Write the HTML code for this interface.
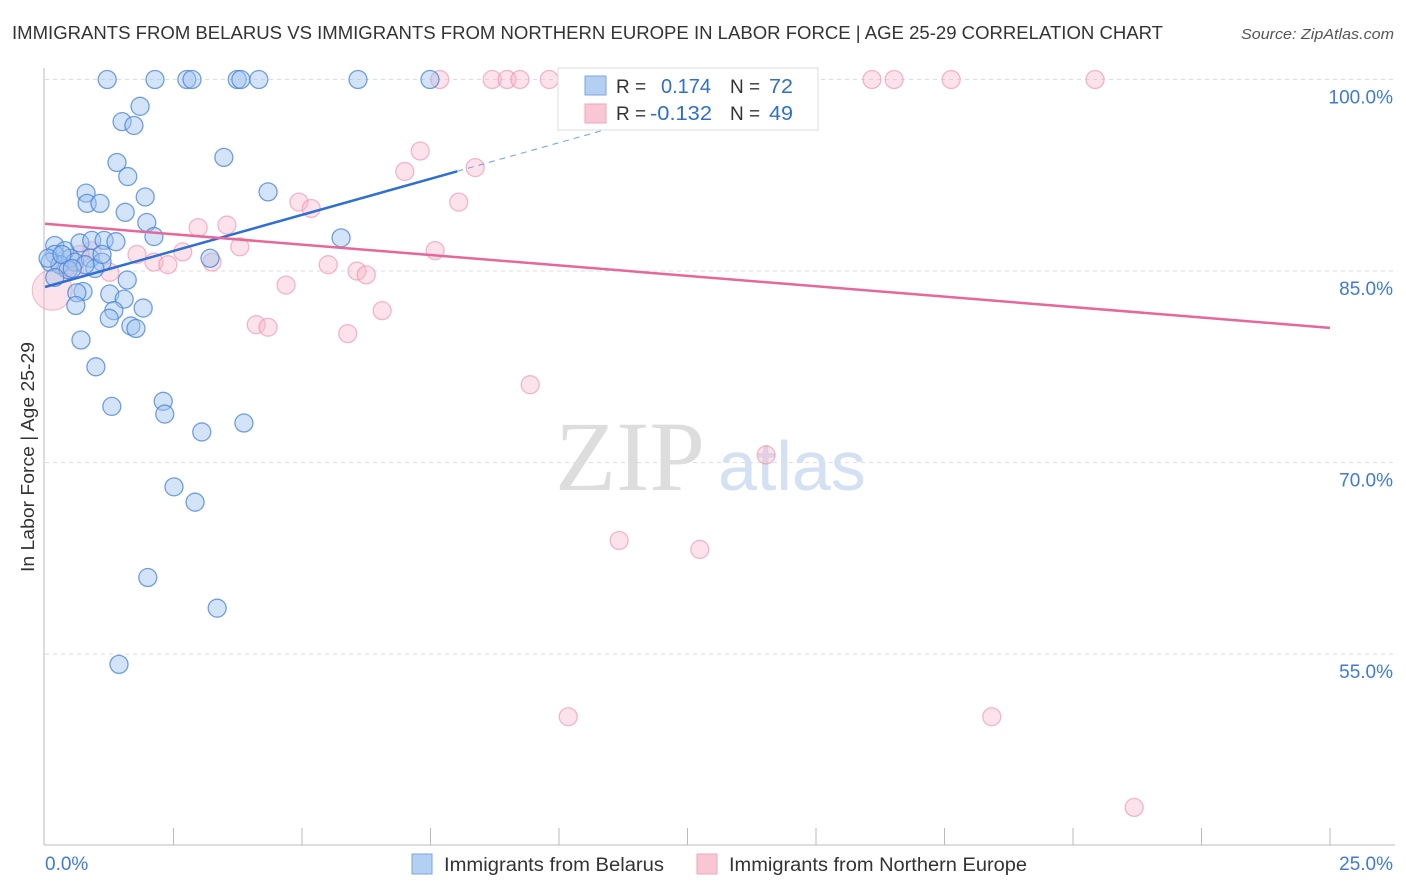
<!DOCTYPE html>
<html><head><meta charset="utf-8"><style>
body{margin:0;background:#fff;font-family:"Liberation Sans",sans-serif;}
svg{display:block}
</style></head><body>
<svg id="chart" width="1406" height="892">
<text x="12" y="39" font-size="18" textLength="1151" lengthAdjust="spacingAndGlyphs" fill="#333">IMMIGRANTS FROM BELARUS VS IMMIGRANTS FROM NORTHERN EUROPE IN LABOR FORCE | AGE 25-29 CORRELATION CHART</text>
<text x="1241" y="39" font-size="15" textLength="153" lengthAdjust="spacingAndGlyphs" fill="#555" font-style="italic">Source: ZipAtlas.com</text>
<text transform="translate(34,457) rotate(-90)" font-size="18" textLength="230" lengthAdjust="spacingAndGlyphs" fill="#333" text-anchor="middle">In Labor Force | Age 25-29</text>
<g><text x="555" y="490" font-family="Liberation Serif,serif" font-size="100" fill="#ddd">ZIP</text><text x="718" y="490" font-size="70" fill="#d3e1f3">atlas</text></g>
<g id="grid"></g><g id="axes"></g><g id="pts"></g><g id="trend"></g>
<g>
<rect x="558" y="68" width="260" height="62" fill="#fff" stroke="#ddd"/>
<rect x="585" y="76" width="21" height="19" fill="#b5cff2" stroke="#7aa7e0"/>
<rect x="585" y="104" width="21" height="19" fill="#f9c6d6" stroke="#f0a7be"/>
<text x="616" y="93" font-size="19" fill="#333">R = </text><text x="661" y="93" font-size="20" textLength="50" lengthAdjust="spacingAndGlyphs" fill="#2e6fcc">0.174</text>
<text x="730" y="93" font-size="19" fill="#333">N = </text><text x="769" y="93" font-size="20" textLength="24" lengthAdjust="spacingAndGlyphs" fill="#2e6fcc">72</text>
<text x="616" y="120" font-size="19" fill="#333">R = </text><text x="650" y="120" font-size="20" textLength="62" lengthAdjust="spacingAndGlyphs" fill="#2e6fcc">-0.132</text>
<text x="730" y="120" font-size="19" fill="#333">N = </text><text x="769" y="120" font-size="20" textLength="24" lengthAdjust="spacingAndGlyphs" fill="#2e6fcc">49</text>
</g>
<g>
<rect x="412" y="854" width="20" height="20" fill="#b5cff2" stroke="#7aa7e0"/>
<text x="444" y="871" font-size="19" textLength="220" lengthAdjust="spacingAndGlyphs" fill="#333">Immigrants from Belarus</text>
<rect x="697" y="854" width="20" height="20" fill="#f9c6d6" stroke="#f0a7be"/>
<text x="729" y="871" font-size="19" textLength="298" lengthAdjust="spacingAndGlyphs" fill="#333">Immigrants from Northern Europe</text>
</g>
</svg>
<script>
const blueX=[1.21,2.14,2.76,2.86,3.74,3.81,4.16,6.09,7.49,1.85,1.50,1.73,3.48,1.40,1.61,4.34,0.80,1.95,0.82,1.07,1.56,1.98,2.12,5.76,0.19,0.39,0.68,0.91,1.15,1.38,0.19,0.49,0.10,0.29,0.58,0.88,1.11,3.21,0.45,0.97,1.60,0.19,0.74,0.62,1.26,1.54,0.60,1.34,1.91,1.25,1.67,1.77,0.70,0.99,1.30,2.30,2.33,3.87,3.05,2.51,2.92,2.00,3.35,1.44,0.06,0.33,0.78,0.53,1.11];
const blueY=[100,100,100,100,100,100,100,100,100,97.9,96.7,96.4,93.9,93.5,92.4,91.2,91.1,90.8,90.3,90.3,89.6,88.8,87.7,87.6,87.0,86.6,87.2,87.4,87.4,87.3,86.3,86.0,85.7,85.5,85.7,86.0,85.7,86.0,85.1,85.2,84.3,84.5,83.4,83.3,83.2,82.8,82.3,81.9,82.1,81.3,80.7,80.5,79.6,77.5,74.4,74.8,73.8,73.1,72.4,68.1,66.9,61.0,58.6,54.2,86.0,86.3,85.5,85.2,86.3];
const pinkX=[7.68,8.70,8.99,9.24,9.81,10.41,11.42,16.09,16.52,17.63,20.43,7.30,8.37,7.00,8.05,4.94,5.18,2.98,3.54,3.79,7.59,2.68,1.79,2.12,2.39,3.25,5.51,6.07,6.25,1.26,0.91,0.58,4.69,6.56,4.11,4.34,5.89,9.44,14.03,11.17,12.74,10.18,18.42,21.19,0.39,0.68];
const pinkY=[100,100,100,100,100,100,100,100,100,100,100,94.4,93.1,92.8,90.4,90.4,89.9,88.4,88.6,86.9,86.6,86.5,86.3,85.7,85.5,85.7,85.5,85.0,84.7,84.9,86.6,85.1,83.9,81.9,80.8,80.6,80.1,76.1,70.6,63.9,63.2,50.1,50.1,43.0,85.2,86.3];
const bigPink=[0.14,83.5];
const blueTrend=[83.75,1.13,8.02,11.6];
const pinkTrend=[88.7,-0.326,25];
const yTicks=[100,85,70,55];
const xTickLabels=["0.0%","25.0%"];
const NS="http://www.w3.org/2000/svg";
const X=v=>45+v/25*1285, Y=v=>79.5+(100-v)*12.77;
function mk(t,a,p){const e=document.createElementNS(NS,t);for(const k in a)e.setAttribute(k,a[k]);p.appendChild(e);return e;}
const grid=document.getElementById('grid'),axes=document.getElementById('axes'),pts=document.getElementById('pts'),tr=document.getElementById('trend');
yTicks.forEach(v=>{
 const l=mk('line',{x1:45,x2:1395,y1:Y(v),y2:Y(v),stroke:'#ddd','stroke-dasharray':'4,4'},grid);
 
 
 const t=mk('text',{x:1393,y:Y(v)+24,'font-size':19,fill:'#3f7bd4','text-anchor':'end'},grid);t.textContent=v.toFixed(1)+'%';
 
 
});
mk('line',{x1:44,x2:44,y1:68,y2:845,stroke:'#bbb'},axes);
mk('line',{x1:44,x2:1395,y1:845,y2:845,stroke:'#bbb'},axes);
for(let i=1;i<=10;i++){mk('line',{x1:X(i*2.5),x2:X(i*2.5),y1:828,y2:845,stroke:'#bbb'},axes);}
const t0=mk('text',{x:45,y:870,'font-size':19,fill:'#3f7bd4'},axes);t0.textContent=xTickLabels[0];


const t1=mk('text',{x:1393,y:870,'font-size':19,fill:'#3f7bd4','text-anchor':'end'},axes);t1.textContent=xTickLabels[1];


pinkX.forEach((x,i)=>{const c=mk('circle',{cx:X(x),cy:Y(pinkY[i]),r:9,fill:'rgba(247,182,203,0.4)',stroke:'rgba(236,140,170,0.6)','stroke-width':1.3},pts);
 
 });
const bp=mk('circle',{cx:X(bigPink[0]),cy:Y(bigPink[1]),r:20,fill:'rgba(247,182,203,0.4)',stroke:'rgba(236,140,170,0.6)'},pts);


blueX.forEach((x,i)=>{const c=mk('circle',{cx:X(x),cy:Y(blueY[i]),r:9,fill:'rgba(160,195,240,0.45)',stroke:'rgba(70,130,215,0.75)','stroke-width':1.3},pts);
 
 });
const bf=v=>blueTrend[0]+blueTrend[1]*v, pf=v=>pinkTrend[0]+pinkTrend[1]*v;
let l=mk('line',{x1:X(0),y1:Y(bf(0)),x2:X(blueTrend[2]),y2:Y(bf(blueTrend[2])),stroke:'#2e6fd4','stroke-width':2.5},tr);


l=mk('line',{x1:X(blueTrend[2]),y1:Y(bf(blueTrend[2])),x2:X(blueTrend[3]),y2:Y(bf(blueTrend[3])),stroke:'#6a9fe0','stroke-width':1,'stroke-dasharray':'6,5'},tr);


l=mk('line',{x1:X(0),y1:Y(pf(0)),x2:X(pinkTrend[2]),y2:Y(pf(pinkTrend[2])),stroke:'#e8679a','stroke-width':2.5},tr);


</script>
</body></html>
